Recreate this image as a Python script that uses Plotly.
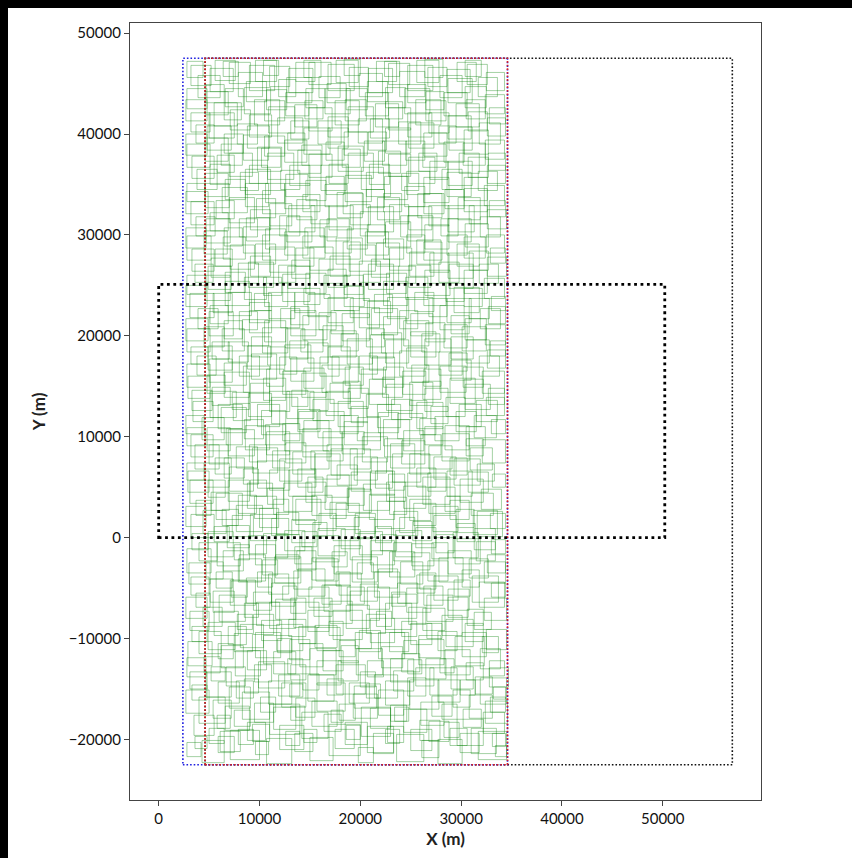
import plotly.graph_objects as go

# ---------------- data ----------------
# green squares: lower-left corner (x, y) and side length s, in metres, one row per list
sq_x = [
 [2800,4300,5900,7100,9600,10700,13500,15000,16900,19800,21300,23600,26100,27700,29900,31700,33400],
 [3500,5000,6600,8800,11000,12600,14200,16400,18500,20100,22700,24300,25900,28300,29600,32200],
 [2700,5400,7000,8300,10100,12200,13600,15700,17900,19400,21800,23400,24900,27100,29200,30800,32900],
 [3100,4700,6700,8500,9900,11900,14300,15700,17600,20000,21400,23300,25500,26900,29000,31400,32800],
 [2900,4500,6200,8800,10400,12800,14000,16300,18100,19600,22100,24100,25800,27900,29400,31900],
 [3300,4900,6900,8100,10200,11700,13900,15500,17300,19500,21000,22900,25000,26600,28500,30400,32500],
 [2700,4400,6000,8500,9700,11600,13400,15400,17000,19000,21600,23200,24800,26600,28700,30600,32300],
 [3200,5100,7200,8700,10900,12300,13800,16200,17900,20000,21400,23700,25600,27300,29300,31100,33000],
 [2800,4700,6400,8000,10300,11600,13700,15200,17400,19700,21100,22900,25200,26700,28700,30800,32600],
 [3300,4900,6800,8900,10400,12500,14200,15800,18100,19900,22000,23500,25500,27500,29200,31300,33000],
 [2700,4400,6300,7700,10000,11700,13600,15900,17600,19500,21700,23900,25300,27200,29500,31200,32900],
 [3100,5200,6900,8800,10800,12400,14600,16500,18700,20300,22600,24300,26200,28400,29900,32000],
 [2800,4600,6500,8400,9800,12000,13800,15500,17700,19400,21500,23200,25600,27300,29300,31600,33100],
 [3200,5000,6900,9000,10700,12600,14300,16700,18200,20200,22400,24100,26000,28100,30500,32100],
 [2700,4300,6200,8500,10200,12300,13800,15800,18000,19700,21800,23700,25900,27400,29500,31300,33000],
 [3300,5100,7300,8900,11000,12700,15000,16600,18800,20600,22600,24900,26400,28500,30400,32500],
 [2800,4800,6500,8400,10700,12300,14400,16200,18500,20100,22300,24200,26300,27900,30200,32100],
 [3200,4900,6900,8800,10800,12500,14800,16800,18700,20900,22500,24600,26400,28800,30500,32600],
 [2700,4500,6500,8300,10500,12600,14300,16300,18200,20600,22300,24300,26500,28300,30400,32400],
 [3100,5100,6900,9000,10900,13100,14800,16800,19000,20700,22700,24600,26800,28600,30800,32700],
 [2800,4600,6600,8500,10400,12300,14600,16400,18400,20300,22600,24500,26400,28500,30300,32300],
 [3300,5200,7100,9100,11000,13200,15000,17000,18900,21100,22900,24900,26900,28700,30800,32600],
 [2700,4500,6500,8400,10600,12500,14500,16500,18700,20500,22500,24600,26400,28600,30400,32500],
 [3200,5100,7000,9100,11000,12900,15100,16900,19000,20800,22900,24800,26800,28700,30800,32600],
 [2800,4600,6600,8600,10600,12500,14600,16500,18500,20600,22400,24400,26300,28400,30300,32300],
 [3300,5100,7000,9000,10800,13000,14900,16900,18800,20900,22800,24800,26900,28700,30700,32600],
 [2700,4600,6500,8400,10500,12500,14400,16600,18400,20400,22500,24500,26300,28300,30300,32400],
 [3200,5000,7100,9000,10900,13100,14900,16800,18800,21000,22800,24700,26800,28700,30700,32600],
 [2800,4600,6600,8500,10700,12600,14600,16500,18600,20500,22500,24400,26500,28300,30400,32400],
 [3200,5100,7000,9000,11000,12900,14900,16800,18900,20800,22800,24700,26700,28600,30600,32500],
 [3600,6100,7900,12000,14400,17500,20700,22500,25000,28900,31000,33100,9300,18600,26800],
 [4000,5800,9500,11400,13100,15200,17100,21000,23000,26000,28100,30200,32400,7500,19300],
 [3300,5900,7700,10900,13000,14800,16700,18900,20600,22500,24700,27700,29900,31900,33200],
 [2800,5200,7600,9500,11400,13100,15000,17800,20700,23000,24700,26500,28400,30500,32800],
 [4000,5900,7500,9600,11800,13000,15700,17900,19900,21800,24300,25800,27700,30100,32100],
 [3100,5500,7800,9400,11000,12900,14800,16900,18600,20600,22500,24100,26200,28100,31300],
 [3700,5400,7100,9400,11200,13100,14900,16400,18700,20700,23100,24600,26300,28700,31800],
 [3000,5700,7900,9800,11500,13400,15600,17600,19200,21800,24000,25900,27800,30100,32300],
 [4000,5800,7500,9600,11600,13500,15300,17200,19000,21000,23300,25100,27100,29400,31500],
 [3200,5500,7300,9100,11200,13200,15300,17300,19400,21500,23300,25200,27300,29600,31600],
 [3700,5700,7900,9500,11400,13300,15200,17000,18800,20900,22900,24900,26800,28900,31000],
 [2900,4900,7000,9100,11000,12900,14800,16700,19100,21000,22800,24700,26700,28600,30700],
 [3600,5600,7700,9300,11300,13300,15100,17100,19000,21100,23000,24900,26800,28900,30900],
 [2800,4800,6700,8600,10600,12500,14400,16300,18400,20300,22300,24300,26400,28400,30500],
 [3400,5900,7400,9800,11200,13900,15300,17800,19100,21700,23100,25600,27000,29800,31500],
 [2900,5300,6500,9100,10400,13200,14200,17000,18300,20900,22200,24900,26200,28900,30300,32700],
 [3800,5000,8000,9200,12000,13100,16000,17200,19900,21200,23900,25100,27800,29000,31800],
 [2800,5300,6300,9200,10300,13000,14100,17000,18100,21000,22100,25000,26100,29000,30100,32900],
 [3900,5000,8000,9000,12100,13100,15900,17100,19900,21100,23900,25000,27900,29000,31900],
 [2700,5400,6600,9500,10500,13500,14400,17400,18400,21400,22300,25400,26300,29300,30300,33000],
 [3600,4900,7900,8900,11900,12800,15900,16800,19900,20800,23800,24800,27800,28800,31800],
 [2800,5600,6400,9600,10300,13600,14300,17600,18300,21600,22300,25600,26300,29600,30300,32900],
 [3700,4700,8000,8700,12000,12700,16000,16700,20000,20700,24000,24700,28000,28700,31900],
 [2700,5700,6300,9700,10300,13700,14300,17700,18300,21700,22300,25700,26300,29700,30300,32800],
 [3800,4600,8100,8600,12100,12600,16100,16600,20100,20600,24100,24600,28100,28600,31700],
 [2800,5800,6200,9800,10200,13800,14200,17800,18200,21800,22200,25800,26200,29800,30200,32700],
 [3700,4800,7800,8800,11800,12800,15800,16800,19800,20800,23800,24800,27800,28800,31800],
 [2700,5500,6500,9500,10500,13500,14500,17500,18500,21500,22500,25500,26500,29500,30500,32800],
 [3900,4700,7900,8700,11900,12700,15900,16700,19900,20700,23900,24700,27900,28700,31700],
 [2800,5600,6400,9600,10400,13600,14400,17600,18400,21600,22400,25600,26400,29600,30400],
]
sq_y = [
 [-21700,-22300,-21300,-22000,-21500,-22400,-21200,-22100,-21600,-22300,-21400,-22200,-21800,-22400,-21300,-22000,-21700],
 [-19600,-20400,-19100,-20100,-19500,-20600,-19900,-19200,-20500,-19700,-20300,-19300,-20100,-19800,-20600,-19400],
 [-17400,-17900,-16900,-18000,-17300,-16800,-17800,-17200,-18100,-16900,-17600,-18200,-17000,-17700,-16800,-17900,-17300],
 [-15000,-15800,-14700,-15400,-14900,-15700,-15100,-14600,-15500,-14800,-15900,-15200,-14700,-15600,-15000,-15500,-14800],
 [-12700,-13400,-12900,-13100,-12500,-13500,-12800,-13200,-12400,-13600,-12900,-13300,-12600,-13400,-12700,-13000],
 [-10300,-11100,-10600,-10900,-10200,-11200,-10500,-10900,-10100,-11000,-10400,-11300,-10600,-10000,-10800,-10300,-11100],
 [-8000,-8800,-8300,-7900,-8700,-8100,-8900,-7800,-8500,-8200,-8800,-8000,-8600,-8300,-7900,-8700,-8200],
 [-5700,-6400,-5900,-6500,-5600,-6200,-5800,-6600,-5700,-6300,-5900,-6500,-5500,-6200,-5800,-6400,-5900],
 [-3500,-4100,-3300,-4300,-3700,-4000,-3200,-4200,-3600,-4100,-3400,-3900,-3200,-4300,-3600,-4000,-3500],
 [-1200,-1900,-1000,-1600,-2000,-1300,-900,-1800,-1100,-1700,-1300,-1900,-1000,-1500,-2000,-1200,-1600],
 [1100,400,1200,600,1000,300,1300,700,1100,400,900,500,1200,600,1000,300,900],
 [3400,2700,3600,2900,3300,2600,3500,2800,3200,2700,3600,2900,3300,2600,3500,2800],
 [5700,5000,5900,5300,4900,5600,5000,5800,5200,5700,4900,5500,5000,5800,5200,5600,5000],
 [8000,7300,8100,7500,8200,7400,8000,7600,8300,7500,8000,7300,8200,7600,8100,7400],
 [10300,9700,10400,9800,10200,9600,10500,9900,10300,9600,10400,9800,10200,9600,10500,9900,10300],
 [12600,11900,12700,12000,12500,11800,12600,12100,12800,12000,12600,11900,12500,12000,12700,12100],
 [14900,14300,15100,14400,15000,14200,14800,14400,15100,14300,14900,14200,15000,14400,14900,14300],
 [17200,16600,17400,16700,17100,16500,17300,16700,17200,16600,17300,16800,17100,16500,17300,16800],
 [19500,18900,19700,19000,19400,18800,19600,19000,19500,18900,19700,19000,19400,18800,19600,19100],
 [21800,21200,22000,21300,21700,21100,21900,21300,21800,21100,21700,21200,21900,21300,21700,21200],
 [24100,23500,24300,23600,24000,23400,24200,23700,24100,23500,24200,23600,24000,23400,24200,23700],
 [26400,25800,26600,25900,26300,25700,26500,25900,26400,25800,26500,25900,26300,25700,26500,25900],
 [28700,28100,28900,28200,28600,28000,28800,28200,28600,28000,28800,28200,28600,28000,28800,28200],
 [31000,30400,31200,30500,30900,30300,31100,30500,31000,30300,31100,30500,30900,30300,31100,30600],
 [33300,32700,33500,32800,33200,32600,33400,32800,33300,32700,33500,32800,33200,32600,33400,32900],
 [35600,35000,35800,35100,35500,34900,35700,35100,35600,35000,35800,35100,35500,34900,35700,35100],
 [37900,37300,38100,37400,37800,37200,38000,37400,37900,37300,38100,37400,37800,37200,38000,37500],
 [40200,39600,40400,39700,40100,39500,40300,39700,40200,39600,40400,39700,40100,39500,40300,39800],
 [42500,41900,42700,42000,42400,41800,42600,42000,42400,41800,42600,42000,42400,41800,42600,42000],
 [44800,44200,45000,44300,44700,44100,44900,44300,44700,44100,44900,44300,44700,44100,44900,44300],
 [-20900,-21200,-20500,-21000,-20300,-20900,-21300,-20400,-21100,-20600,-21400,-20700,-20200,-20000,-20200],
 [-18400,-18900,-18300,-19000,-18100,-18700,-18300,-18900,-18200,-18600,-18000,-18800,-18400,-18700,-17900],
 [-16100,-16400,-15900,-16500,-15800,-16200,-15600,-16400,-15900,-16600,-15700,-16300,-15600,-16500,-16000],
 [-13800,-14200,-13700,-14300,-13500,-14100,-13600,-14200,-13800,-14300,-13500,-14000,-13600,-14100,-13700],
 [-11500,-12000,-11300,-11900,-11400,-12100,-11200,-11800,-11300,-12000,-11500,-11900,-11200,-11800,-11400],
 [-9200,-9700,-9100,-9600,-9000,-9800,-9300,-9700,-9000,-9500,-9100,-9800,-9200,-9700,-9100],
 [-6900,-7400,-6700,-7200,-6800,-7500,-6900,-7300,-6600,-7100,-6800,-7400,-6700,-7200,-6900],
 [-4600,-5000,-4400,-4900,-4500,-5100,-4300,-4800,-4400,-5000,-4600,-5100,-4400,-4900,-4500],
 [-2300,-2800,-2200,-2700,-2100,-2600,-2400,-2900,-2200,-2700,-2300,-2800,-2100,-2600,-2300],
 [0,-400,100,-300,200,-500,100,-300,0,-500,200,-300,0,-400,100],
 [2200,1800,2400,1900,2300,1700,2200,1900,2500,1800,2300,1700,2400,1800,2200],
 [4500,4000,4600,4100,4700,4100,4500,4000,4600,4200,4700,4100,4600,4100,4500],
 [6800,6300,6900,6400,6900,6300,6800,6200,6800,6400,6900,6300,6800,6200,6700],
 [9100,8600,9200,8700,9200,8600,9100,8600,9200,8700,9100,8600,9200,8700,9100],
 [11500,10800,11600,11000,11300,10700,11600,11000,11400,10900,11700,10800,11300,11000,11500],
 [13800,13100,13900,13400,13600,13000,13900,13300,13800,13200,13900,13100,13700,13300,13800,13200],
 [16100,15400,16000,15700,16200,15500,16000,15400,16200,15700,16000,15400,16100,15600,16000],
 [18400,17700,18500,17900,18300,17700,18400,17900,18500,17800,18300,17900,18400,17700,18500,18000],
 [20700,20000,20600,20300,20800,20000,20600,20200,20800,20100,20700,20000,20600,20200,20700],
 [22900,22300,23000,22500,22900,22300,23100,22500,22900,22300,23000,22400,23000,22300,22900,22500],
 [25300,24600,25200,24800,25300,24700,25200,24800,25300,24600,25200,24800,25300,24700,25200],
 [27500,26900,27600,27100,27500,26900,27700,27100,27600,26900,27600,27100,27500,26900,27700,27200],
 [29900,29200,29800,29400,29900,29300,29800,29400,29900,29200,29800,29400,29900,29300,29800],
 [32100,31600,32200,31700,32100,31500,32300,31700,32100,31500,32300,31700,32100,31500,32300,31800],
 [34500,33800,34400,34000,34500,33800,34400,34000,34500,33800,34400,34000,34500,33800,34400],
 [36700,36200,36900,36300,36700,36100,36900,36300,36700,36100,36900,36300,36700,36100,36900,36400],
 [39100,38400,39000,38600,39100,38400,39000,38600,39100,38400,39000,38600,39100,38400,39000],
 [41300,40800,41400,40900,41300,40700,41500,40900,41300,40700,41500,40900,41300,40700,41500,41000],
 [43600,43100,43700,43200,43700,43100,43600,43100,43700,43200,43700,43100,43600,43100,43700],
 [45600,45300,45700,45200,45800,45200,45600,45100,45800,45200,45700,45100,45600,45200,45700],
]
sq_s = [
 [1400,2200,1600,2900,1300,2500,1800,2300,3100,1500,2000,2700,1700,2400,1900,2800,1100],
 [2000,1500,2400,1800,3000,1400,2600,1700,2200,2900,1600,2300,2000,1500,2600,2100],
 [2300,1800,2100,2700,1500,2400,1900,2800,1600,2200,2500,1400,2900,2000,1700,2300,1500],
 [1700,2500,1900,1400,2600,2100,1600,2400,2900,1500,2300,2000,1800,2700,2200,1700,1900],
 [2400,1600,2200,1900,2800,1500,2300,2000,1700,2600,2100,1800,2500,1400,2900,2000],
 [1500,2700,1800,2300,2000,2600,1700,2200,2900,1600,2400,1900,2100,1500,2700,1800,2000],
 [2100,1900,2600,1400,2300,2000,2500,1800,2200,2900,1500,2400,1700,2600,2000,1600,2200],
 [1800,2300,1600,2500,2000,1400,2700,1900,2200,1700,2500,2000,1800,2400,1600,2600,1400],
 [2400,1700,2000,2600,1500,2300,1900,2200,2800,1600,2100,2500,1700,2000,2300,1900,1800],
 [1600,2500,2200,1800,2400,2000,1500,2700,1900,2300,1600,2600,2000,1800,2500,2100,1400],
 [2000,2300,1600,2600,1900,2200,2500,1700,2300,2000,2700,1500,2200,2500,1800,2400,1500],
 [2300,1800,2100,2500,1600,2800,2000,2300,1700,2600,1900,2200,2700,1500,2300,2000],
 [1700,2400,2000,1500,2700,2200,1800,2500,2000,2300,1700,2800,1900,2200,2600,1700,1300],
 [2200,1900,2600,1700,2300,2000,2800,1600,2200,2500,1800,2300,2000,2700,1700,2300],
 [1800,2200,2500,1900,2400,1700,2200,2600,1800,2300,2000,2500,1600,2400,2000,2200,1400],
 [2000,2600,1700,2300,2000,2700,1800,2400,2000,2200,2600,1700,2300,1900,2500,1800],
 [2300,1800,2200,2600,1700,2300,2000,2700,1800,2400,2000,2300,1700,2600,2000,2200],
 [1700,2400,2000,2300,1800,2600,2000,2200,2500,1700,2300,2000,2600,1800,2300,1800],
 [2200,2000,1800,2600,2100,1900,2400,2000,2700,1800,2200,2500,1900,2300,2100,2000],
 [2400,1800,2300,2000,2600,1800,2200,2500,1900,2300,2100,2600,1800,2400,2000,1700],
 [1900,2500,2000,2200,1800,2700,2000,2300,1900,2600,2000,2200,2500,1800,2300,2000],
 [2200,1900,2400,2000,2500,1800,2300,2000,2600,1800,2200,2400,1900,2500,1900,1900],
 [2000,2300,1800,2600,2000,2300,1900,2600,2000,2300,2500,1800,2400,2000,2300,1800],
 [2300,1800,2500,2000,2200,2600,1800,2400,2000,2500,1900,2300,2000,2600,1800,1900],
 [1800,2400,2000,2300,1900,2500,2000,2200,2600,1800,2300,2000,2500,1900,2300,2000],
 [2200,2000,2300,1800,2600,2000,2300,1900,2500,2000,2200,2600,1800,2400,2000,1800],
 [2100,2300,1900,2500,2000,2200,2600,1800,2300,2000,2500,1900,2300,2000,2400,1900],
 [1900,2500,2000,2200,2600,1800,2300,2000,2500,1900,2200,2400,2000,2300,1900,1800],
 [2000,2300,1800,2600,2000,2300,1900,2500,2100,2300,2000,2500,1800,2300,2100,1900],
 [2000,2300,2100,2500,2000,2400,2200,2600,1900,2400,2100,2500,1900,2300,2000,1800],
 [1200,2000,1500,2400,1300,1900,2600,1400,2100,1700,2500,1300,1700,1400,2000],
 [2600,1300,1900,2200,1400,2500,1200,2000,1600,2300,1500,1800,2200,1600,2400],
 [1500,2100,1700,2300,1300,2600,1600,2000,1400,2400,1800,2200,1500,2600,1200],
 [1900,1400,2500,1700,2200,1500,2600,2000,1600,2300,1400,2000,2500,1700,1500],
 [2200,1500,1800,2500,1400,2000,2300,1600,2100,2600,1300,2200,1900,2400,1600],
 [1900,2400,1500,2000,2600,1700,2100,1400,2300,1900,2600,1500,2200,2000,1700],
 [1400,2100,2500,1800,2300,1500,2000,2600,1700,2200,1400,2400,1900,2100,2500],
 [2100,1600,2300,1500,2600,1800,2200,1400,2500,1900,2200,1600,2400,1700,2100],
 [1800,2300,1500,2000,2400,1700,2600,1500,2100,2400,1800,2200,1600,2500,1900],
 [2300,1500,2100,2600,1700,2300,1400,2500,2000,1600,2400,1900,2200,1800,2500],
 [1500,2600,1800,2200,1500,2400,2000,1600,2300,2500,1700,2100,2600,1900,2200],
 [2100,1700,2400,1600,2000,2600,1500,2200,1900,2400,1600,2300,1800,2500,2000],
 [2400,1600,2100,2500,1700,2200,1800,2600,2000,1500,2400,2000,2300,1700,2200],
 [1800,2300,1600,2400,2000,1700,2500,1900,2300,1700,2600,2000,1800,2400,1900],
 [2000,2400,1700,2200,2600,1800,2100,2500,1600,2300,2000,2600,1700,2200,2100],
 [2200,1800,2500,1900,2200,1600,2400,2000,1700,2500,2000,2300,1800,2500,1900,1600],
 [1900,2300,2000,2500,1700,2300,1900,2600,1800,2200,2500,1700,2300,2000,2000],
 [2300,1700,2200,2000,2500,1800,2200,2600,1700,2300,2000,2500,1800,2200,2400,1500],
 [2000,2400,1800,2200,1900,2500,1700,2300,2000,2600,1800,2200,2400,1800,2000],
 [2100,1900,2400,1700,2300,2000,1600,2500,2000,1800,2400,1900,2200,2500,1800,1400],
 [1800,2300,2000,2500,1700,2200,2400,1800,2100,2500,1700,2200,2000,2400,1900],
 [2400,1700,2200,2000,2500,1800,2200,2600,1700,2300,2000,2400,1800,2200,2100,1500],
 [1900,2400,1800,2300,2000,2500,1700,2200,2400,1800,2100,2500,1700,2300,2000],
 [2200,1800,2500,1900,2300,2000,1700,2500,2000,2200,1800,2400,2000,2200,2300,1600],
 [2000,2300,1800,2500,1900,2200,2500,1800,2200,2400,1700,2300,2000,2400,1900],
 [2300,1700,2100,2400,1900,2300,2000,2500,1800,2200,2400,1800,2300,2000,2200,1700],
 [1800,2400,2000,2200,2500,1700,2300,2000,2400,1800,2200,2500,1700,2300,2100],
 [2100,2300,1700,2500,2000,2200,1800,2400,2100,2300,1700,2500,2000,2300,1900,1600],
 [2200,1800,2400,2000,1700,2500,2100,1900,2300,2000,2500,1800,2200,2400,1900],
 [1600,2000,1500,2100,1500,1900,1700,2200,1600,2000,1500,2200,1800,1900,1600],
]

# dotted outline boxes (metres)
box_x0 = [4600, 2400, 4600, 0]
box_x1 = [56900, 34600, 34600, 50200]
box_y0 = [-22500, -22500, -22500, 0]
box_y1 = [47500, 47500, 47500, 25100]
box_color = ["#111111", "#1f1fe0", "#e01f1f", "#000000"]
box_width = [1.6, 1.6, 1.6, 2.8]
box_dash = ["1.6px,2.0px", "1.6px,2.0px", "1.6px,2.0px", "2.8px,3.6px"]

x_ticks = [0, 10000, 20000, 30000, 40000, 50000]
y_ticks = [-20000, -10000, 0, 10000, 20000, 30000, 40000, 50000]
x_range = [-2845, 59745]
y_range = [-26000, 51000]

# ---------------- figure ----------------
W, H = 852, 858
ML, MR, MT, MB = 130, 91, 23, 58
pw, ph = W - ML - MR, H - MT - MB

shapes = []
# white page with black strips along the top and left edges (8 px each)
shapes.append(dict(type="rect", xref="paper", yref="paper", layer="below",
                   x0=(8 - ML) / pw, x1=(W + 20 - ML) / pw,
                   y0=-(MB + 20) / ph, y1=(H - 8 - MB) / ph,
                   fillcolor="white", line=dict(width=0)))

for xs, ys, ss in zip(sq_x, sq_y, sq_s):
    for x, y, s in zip(xs, ys, ss):
        shapes.append(dict(type="rect", xref="x", yref="y",
                           x0=x, y0=y, x1=x + s, y1=y + s,
                           line=dict(color="rgba(0,128,0,0.36)", width=1),
                           fillcolor="rgba(0,0,0,0)"))

for x0, x1, y0, y1, c, w, d in zip(box_x0, box_x1, box_y0, box_y1, box_color, box_width, box_dash):
    shapes.append(dict(type="rect", xref="x", yref="y", x0=x0, x1=x1, y0=y0, y1=y1,
                       line=dict(color=c, width=w, dash=d), fillcolor="rgba(0,0,0,0)"))

fig = go.Figure()
fig.add_trace(go.Scatter(x=[x_range[0], x_range[1]], y=[y_range[0], y_range[1]],
                         mode="markers", marker=dict(opacity=0), hoverinfo="skip",
                         showlegend=False))

font_family = "Lato, 'Open Sans', sans-serif"
axis_common = dict(showgrid=False, zeroline=False, showline=True, mirror=True,
                   linecolor="#444444", linewidth=1.3, ticks="outside", ticklen=5,
                   tickwidth=1.2, tickcolor="#444444",
                   tickfont=dict(family=font_family, size=15, color="#111111"))

fig.update_layout(
    width=W, height=H, autosize=False,
    margin=dict(l=ML, r=MR, t=MT, b=MB, pad=0),
    paper_bgcolor="black", plot_bgcolor="white",
    shapes=shapes, showlegend=False,
    xaxis=dict(range=x_range, tickvals=x_ticks, ticktext=[str(v) for v in x_ticks],
               title=dict(text="<b>X (m)</b>", font=dict(family=font_family, size=17, color="#222222"), standoff=6),
               **axis_common),
    yaxis=dict(range=y_range, tickvals=y_ticks,
               ticktext=[("\u2212" + str(-v)) if v < 0 else str(v) for v in y_ticks],
               title=dict(text="<b>Y (m)</b>", font=dict(family=font_family, size=17, color="#222222"), standoff=18),
               **axis_common),
)

fig.write_html("out.html")
